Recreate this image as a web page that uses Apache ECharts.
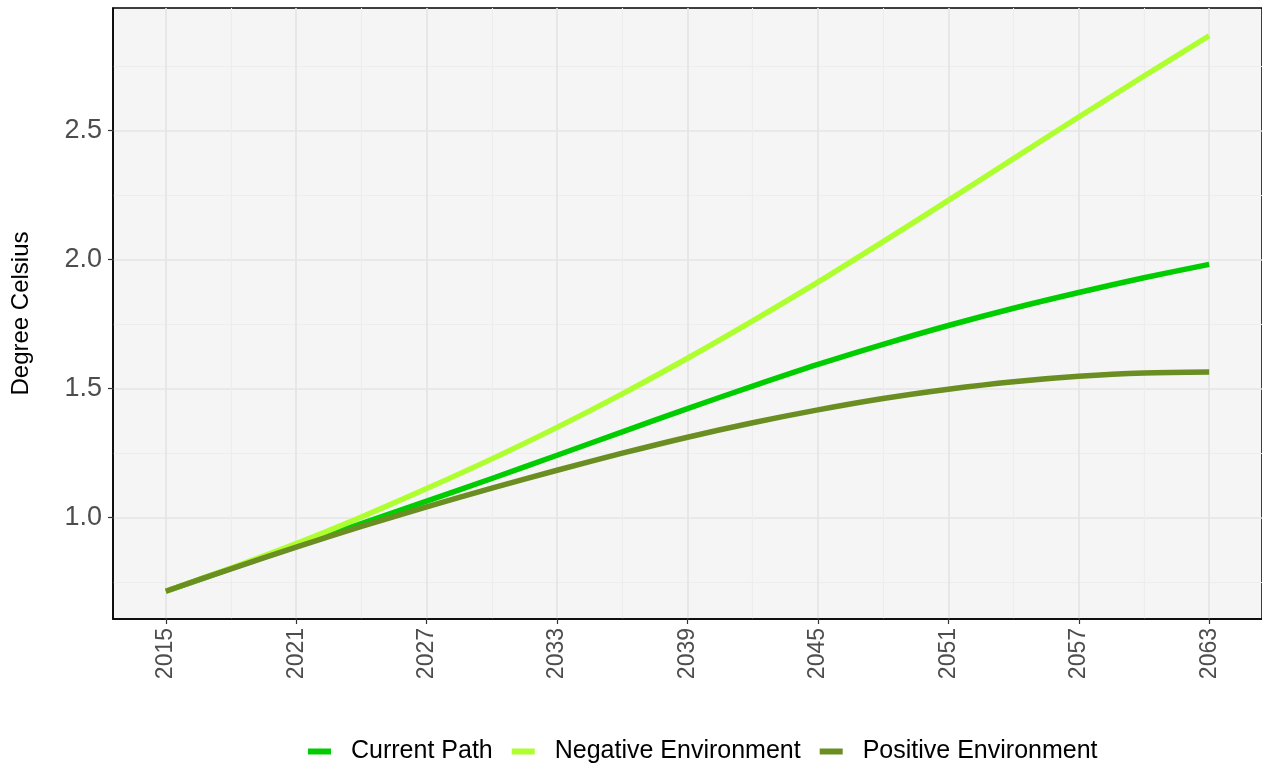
<!DOCTYPE html>
<html>
<head>
<meta charset="utf-8">
<script src="https://cdn.jsdelivr.net/npm/echarts@6/dist/echarts.min.js"></script>
<style>
html,body{margin:0;padding:0;background:#fff;}
#chart{width:1262px;height:768px;}
</style>
</head>
<body>
<div id="chart"></div>
<script>
// ---- data ----
var years = [2015, 2018, 2021, 2024, 2027, 2030, 2033, 2036, 2039, 2042, 2045, 2048, 2051, 2054, 2057, 2060, 2063];
var currentPath = [0.715, 0.803, 0.89, 0.977, 1.064, 1.152, 1.242, 1.333, 1.423, 1.51, 1.594, 1.672, 1.745, 1.812, 1.873, 1.93, 1.982];
var negativeEnv = [0.715, 0.805, 0.90, 1.003, 1.113, 1.228, 1.35, 1.48, 1.618, 1.763, 1.913, 2.07, 2.23, 2.392, 2.553, 2.712, 2.868];
var positiveEnv = [0.715, 0.802, 0.886, 0.966, 1.042, 1.115, 1.184, 1.25, 1.312, 1.368, 1.418, 1.462, 1.498, 1.527, 1.548, 1.561, 1.565];
var seriesNames = ['Current Path', 'Negative Environment', 'Positive Environment'];
var seriesColors = ['#00CD00', '#ADFF2F', '#6B8E23'];
var xMajorTicks = [2015, 2021, 2027, 2033, 2039, 2045, 2051, 2057, 2063];
var xMinorTicks = [2018, 2024, 2030, 2036, 2042, 2048, 2054, 2060];
var yMajorTicks = [1.0, 1.5, 2.0, 2.5];
var yMinorTicks = [0.75, 1.25, 1.75, 2.25, 2.75];
var yTitle = 'Degree Celsius';

// ggplot-like 5% expansion
var xMin = 2015 - 0.05 * (2063 - 2015) - 0.03;
var xMax = 2063 + 0.05 * (2063 - 2015) + 0.03;
var allVals = currentPath.concat(negativeEnv, positiveEnv);
var vMin = Math.min.apply(null, allVals), vMax = Math.max.apply(null, allVals);
var yMin = vMin - 0.05 * (vMax - vMin);
var yMax = vMax + 0.05 * (vMax - vMin);

function pairs(xs, ys) { return xs.map(function (x, i) { return [x, ys[i]]; }); }
var seriesData = [currentPath, negativeEnv, positiveEnv];

var FONT = 'Liberation Sans, Arial, sans-serif';
var chart = echarts.init(document.getElementById('chart'), null, { renderer: 'canvas' });
var option = {
  animation: false,
  backgroundColor: '#ffffff',
  textStyle: { fontFamily: FONT },
  grid: {
    left: 113, top: 8, width: 1151, bottom: 149,
    show: true, backgroundColor: '#F5F5F5', borderColor: '#000000', borderWidth: 1.5,
    containLabel: false
  },
  legend: {
    data: seriesNames.map(function (n) { return { name: n, icon: 'rect' }; }),
    left: 303, top: 734,
    itemWidth: 23, itemHeight: 6, itemGap: 19,
    textStyle: { fontFamily: FONT, fontSize: 25, color: '#000000', padding: [0, 0, 0, 15] }
  },
  xAxis: [
    {
      type: 'value', min: xMin, max: xMax, gridIndex: 0,
      axisLine: { show: true, lineStyle: { color: '#000000', width: 1.5 } },
      axisTick: { show: true, length: 5, lineStyle: { color: '#333333', width: 1.2 }, customValues: xMajorTicks },
      axisLabel: { show: true, rotate: 90, margin: 9, fontSize: 23, color: '#4D4D4D', fontFamily: FONT, customValues: xMajorTicks,
        formatter: function (v) { return String(v); } },
      splitLine: { show: true, lineStyle: { color: '#E4E4E4', width: 1.6 } }
    },
    {
      type: 'value', min: xMin, max: xMax, gridIndex: 0, position: 'bottom',
      axisLine: { show: false },
      axisTick: { show: false, customValues: xMinorTicks },
      axisLabel: { show: false, customValues: xMinorTicks },
      splitLine: { show: true, lineStyle: { color: '#EDEDED', width: 1.1 } }
    }
  ],
  yAxis: [
    {
      type: 'value', min: yMin, max: yMax, gridIndex: 0,
      name: yTitle, nameLocation: 'middle', nameGap: 80,
      nameTextStyle: { fontFamily: FONT, fontSize: 24, color: '#000000' },
      axisLine: { show: true, lineStyle: { color: '#000000', width: 1.5 } },
      axisTick: { show: true, length: 5, lineStyle: { color: '#333333', width: 1.2 }, customValues: yMajorTicks },
      axisLabel: { show: true, margin: 11, fontSize: 27, color: '#4D4D4D', fontFamily: FONT, customValues: yMajorTicks,
        formatter: function (v) { return v.toFixed(1); } },
      splitLine: { show: true, lineStyle: { color: '#E4E4E4', width: 1.6 } }
    },
    {
      type: 'value', min: yMin, max: yMax, gridIndex: 0, position: 'left',
      axisLine: { show: false },
      axisTick: { show: false, customValues: yMinorTicks },
      axisLabel: { show: false, customValues: yMinorTicks },
      splitLine: { show: true, lineStyle: { color: '#EDEDED', width: 1.1 } }
    }
  ],
  series: seriesNames.map(function (n, i) {
    return {
      name: n, type: 'line', xAxisIndex: 0, yAxisIndex: 0,
      data: pairs(years, seriesData[i]),
      showSymbol: false, symbol: 'none', smooth: 0.3,
      color: seriesColors[i],
      lineStyle: { color: seriesColors[i], width: 5.5, cap: 'butt', join: 'round' },
      z: 3 + i
    };
  })
};
chart.setOption(option);
</script>
</body>
</html>
